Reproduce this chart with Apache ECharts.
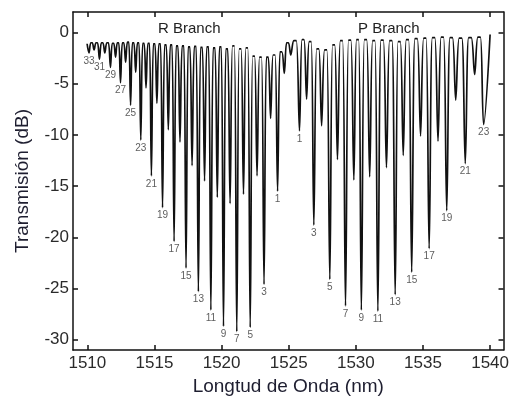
<!DOCTYPE html>
<html>
<head>
<meta charset="utf-8">
<script src="https://cdn.jsdelivr.net/npm/echarts@6/dist/echarts.min.js"></script>
<style>
  html, body { margin: 0; padding: 0; background: #fff; }
  #chart { width: 512px; height: 401px; }
</style>
</head>
<body>
<div id="chart"></div>
<script>
// R-branch absorption lines, J = 33 ... 0 (wavelength in nm, transmission minimum in dB)
const rJ = [33, 32, 31, 30, 29, 28, 27, 26, 25, 24, 23, 22, 21, 20, 19, 18, 17,
            16, 15, 14, 13, 12, 11, 10, 9, 8, 7, 6, 5, 4, 3, 2, 1, 0];
const rWavelength = [1510.12, 1510.50, 1510.90, 1511.30, 1511.72, 1512.10, 1512.47, 1512.85,
                     1513.22, 1513.60, 1513.98, 1514.37, 1514.77, 1515.18, 1515.60, 1516.03,
                     1516.46, 1516.90, 1517.35, 1517.80, 1518.27, 1518.73, 1519.20, 1519.68,
                     1520.14, 1520.63, 1521.13, 1521.63, 1522.13, 1522.64, 1523.16, 1523.65,
                     1524.17, 1524.67];
const rDepth = [-2.0, -1.7, -2.6, -2.0, -3.4, -2.4, -4.9, -2.9, -7.1, -3.9, -10.5, -5.4,
                -14.0, -6.9, -17.1, -9.5, -20.4, -10.7, -23.0, -13.0, -25.3, -14.5, -27.1,
                -16.1, -28.7, -16.7, -29.2, -15.8, -28.8, -14.0, -24.6, -8.4, -15.5, -4.0];

// weak line near the band centre
const centreWavelength = [1525.15];
const centreDepth = [-2.2];

// P-branch absorption lines, J = 1 ... 23
const pJ = [1, 2, 3, 4, 5, 6, 7, 8, 9, 10, 11, 12, 13, 14, 15, 16, 17, 18, 19, 20, 21, 22, 23];
const pWavelength = [1525.80, 1526.33, 1526.87, 1527.45, 1528.06, 1528.63, 1529.23, 1529.85,
                     1530.41, 1531.03, 1531.64, 1532.28, 1532.93, 1533.53, 1534.16, 1534.82,
                     1535.46, 1536.12, 1536.77, 1537.44, 1538.15, 1538.85, 1539.52];
const pDepth = [-9.6, -6.5, -18.8, -9.1, -24.1, -12.4, -26.7, -14.4, -27.1, -14.1, -27.2,
                -13.2, -25.6, -12.0, -23.4, -10.1, -21.1, -10.6, -17.4, -6.6, -12.8, -4.1, -9.0];

// transmission maxima: trace start, between neighbouring lines, trace end (dB)
const traceStart = 1509.98;
const traceEnd = 1540.0;
const peakLevel = [-1.1,
  -1.0, -1.0, -1.0, -1.0, -1.05, -1.0, -1.0, -0.95, -1.0, -1.0,
  -1.05, -1.05, -1.1, -1.1, -1.2, -1.2, -1.3, -1.3, -1.4, -1.35,
  -1.45, -1.4, -1.5, -1.4, -1.6, -1.3, -1.6, -1.5, -2.3, -2.4,
  -2.4, -2.2, -1.9,
  -1.0, -0.8,
  -0.7, -0.9, -1.6, -1.7, -1.2, -0.8, -0.75, -0.7, -0.7, -0.8,
  -0.75, -0.8, -0.9, -0.7, -0.6, -0.55, -0.5, -0.45, -0.5, -0.55,
  -0.5, -0.45,
  -0.2];

// axis ticks
const xTicks = [1510, 1515, 1520, 1525, 1530, 1535, 1540];
const yTicks = [-30, -25, -20, -15, -10, -5, 0];

// all minima in wavelength order
const dips = [];
rWavelength.forEach((w, i) => dips.push({ w: w, d: rDepth[i], j: rJ[i] }));
centreWavelength.forEach((w, i) => dips.push({ w: w, d: centreDepth[i], j: null }));
pWavelength.forEach((w, i) => dips.push({ w: w, d: pDepth[i], j: pJ[i] }));

// trace: maximum, minimum, maximum, ... with a short top between lines
const trace = [[traceStart, peakLevel[0]]];
dips.forEach((p, i) => {
  if (i > 0) {
    const prev = dips[i - 1].w;
    const g = p.w - prev;
    trace.push([prev + 0.36 * g, peakLevel[i]]);
    trace.push([p.w - 0.36 * g, peakLevel[i]]);
  }
  trace.push([p.w, p.d]);
});
trace.push([traceEnd, peakLevel[peakLevel.length - 1]]);

// odd-J lines carry their J number
const labelled = dips.filter(p => p.j !== null && p.j % 2 === 1).map(p => [p.w, p.d, String(p.j)]);

const font = 'Liberation Sans, Arial, sans-serif';
const frame = { color: '#111', width: 1.5 };
const plain = v => String(v);

const chart = echarts.init(document.getElementById('chart'), null, { renderer: 'canvas' });
chart.setOption({
  animation: false,
  grid: { left: 73, right: 6, top: 12, bottom: 49 },
  xAxis: [{
    type: 'value', min: 1508.93, max: 1541.0, position: 'bottom',
    axisLine: { onZero: false, lineStyle: frame },
    axisTick: { inside: true, length: 5, customValues: xTicks, lineStyle: frame },
    axisLabel: { customValues: xTicks, formatter: plain, fontSize: 17, color: '#2a2a2a', margin: 5, fontFamily: font },
    splitLine: { show: false },
    name: 'Longtud de Onda (nm)', nameLocation: 'middle', nameGap: 27,
    nameTextStyle: { fontSize: 19, color: '#1e1e30', fontFamily: font }
  }, {
    type: 'value', min: 1508.93, max: 1541.0, position: 'top',
    axisLine: { onZero: false, lineStyle: frame },
    axisTick: { inside: true, length: 5, customValues: xTicks, lineStyle: frame },
    axisLabel: { show: false },
    splitLine: { show: false }
  }],
  yAxis: [{
    type: 'value', min: -31, max: 2, position: 'left',
    axisLine: { onZero: false, lineStyle: frame },
    axisTick: { inside: true, length: 5, customValues: yTicks, lineStyle: frame },
    axisLabel: { customValues: yTicks, formatter: plain, fontSize: 17, color: '#2a2a2a', margin: 4, fontFamily: font },
    splitLine: { show: false },
    name: 'Transmisión (dB)', nameLocation: 'middle', nameGap: 41,
    nameTextStyle: { fontSize: 19, color: '#1e1e30', fontFamily: font }
  }, {
    type: 'value', min: -31, max: 2, position: 'right',
    axisLine: { onZero: false, lineStyle: frame },
    axisTick: { inside: true, length: 5, customValues: yTicks, lineStyle: frame },
    axisLabel: { show: false },
    splitLine: { show: false }
  }],
  graphic: [
    { type: 'text', left: 158, top: 21, style: { text: 'R Branch', fontSize: 15, fill: '#222', fontFamily: font } },
    { type: 'text', left: 358, top: 21, style: { text: 'P Branch', fontSize: 15, fill: '#222', fontFamily: font } }
  ],
  series: [{
    type: 'line', xAxisIndex: 0, yAxisIndex: 0,
    data: trace, showSymbol: false, symbol: 'none',
    smooth: 0.35,
    lineStyle: { color: '#111', width: 1.7 }
  }, {
    type: 'scatter', xAxisIndex: 0, yAxisIndex: 0,
    data: labelled, symbolSize: 0,
    label: {
      show: true, position: 'bottom', distance: 3,
      formatter: p => p.data[2], fontSize: 10, color: '#333', fontFamily: font
    }
  }]
});
</script>
</body>
</html>
